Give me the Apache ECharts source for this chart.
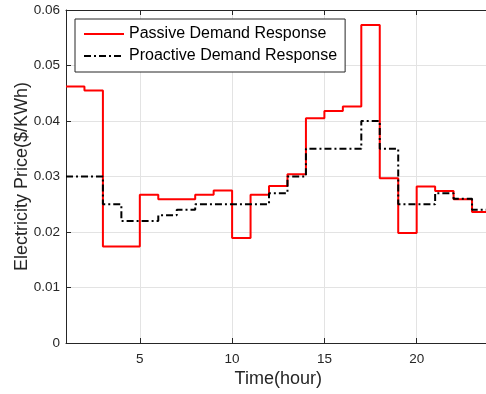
<!DOCTYPE html>
<html>
<head>
<meta charset="utf-8">
<script src="https://cdn.jsdelivr.net/npm/echarts@6/dist/echarts.min.js"></script>
<style>
  html, body { margin: 0; padding: 0; background: #ffffff; }
  #chart { width: 486px; height: 394px; }
</style>
</head>
<body>
<div id="chart"></div>
<script>
// Hourly electricity price under two demand-response schemes (stairs)
var hours = [1, 2, 3, 4, 5, 6, 7, 8, 9, 10, 11, 12, 13, 14, 15, 16, 17, 18, 19, 20, 21, 22, 23, 24];
var passivePrice = [0.0462, 0.0455, 0.0174, 0.0174, 0.0267, 0.0259, 0.0259, 0.0267, 0.0275, 0.0189, 0.0267, 0.0283,
                    0.0304, 0.0405, 0.0418, 0.0426, 0.0573, 0.0297, 0.0198, 0.0282, 0.0274, 0.0259, 0.0236, 0.0236];
var proactivePrice = [0.030, 0.030, 0.025, 0.022, 0.022, 0.023, 0.024, 0.025, 0.025, 0.025, 0.025, 0.027,
                      0.030, 0.035, 0.035, 0.035, 0.040, 0.035, 0.025, 0.025, 0.027, 0.026, 0.024, 0.024];
var xTicks = [5, 10, 15, 20];
var seriesNames = ['Passive Demand Response', 'Proactive Demand Response'];

function pairs(xs, ys) {
  return xs.map(function (x, i) { return [x, ys[i]]; });
}

var FONT = '"Liberation Sans", Arial, Helvetica, sans-serif';
var AXIS = '#262626';
var GRID = '#e3e3e3';

var chart = echarts.init(document.getElementById('chart'), null, { renderer: 'canvas' });

chart.setOption({
  animation: false,
  backgroundColor: '#ffffff',
  grid: { left: 66, top: 10, right: -4.5, bottom: 51, containLabel: false, outerBoundsMode: 'none' },
  legend: {
    left: 75,
    top: 19,
    orient: 'vertical',
    data: seriesNames,
    itemWidth: 40,
    itemHeight: 14,
    itemGap: 6,
    padding: [7, 8, 8, 8],
    backgroundColor: '#ffffff',
    borderColor: AXIS,
    borderWidth: 1,
    borderRadius: 0,
    itemStyle: { opacity: 0 },
    textStyle: { fontFamily: FONT, fontSize: 16, color: '#000000' }
  },
  xAxis: [{
    type: 'value',
    min: 1,
    max: 24,
    position: 'bottom',
    name: 'Time(hour)',
    nameLocation: 'middle',
    nameGap: 27,
    nameMoveOverlap: false,
    nameTextStyle: { fontFamily: FONT, fontSize: 18, color: AXIS },
    axisLine: { show: true, onZero: false, lineStyle: { color: AXIS, width: 1 } },
    axisTick: { show: true, inside: true, length: 5, customValues: xTicks, lineStyle: { color: AXIS } },
    axisLabel: { customValues: xTicks, margin: 9, fontFamily: FONT, fontSize: 13.5, color: AXIS },
    splitLine: { show: true, lineStyle: { color: GRID, width: 1 } }
  }, {
    type: 'value',
    min: 1,
    max: 24,
    position: 'top',
    axisLine: { show: true, onZero: false, lineStyle: { color: AXIS, width: 1 } },
    axisTick: { show: true, inside: true, length: 5, customValues: xTicks, lineStyle: { color: AXIS } },
    axisLabel: { show: false },
    splitLine: { show: false }
  }],
  yAxis: {
    type: 'value',
    min: 0,
    max: 0.06,
    interval: 0.01,
    name: 'Electricity Price($/KWh)',
    nameLocation: 'middle',
    nameGap: 35,
    nameMoveOverlap: false,
    nameTextStyle: { fontFamily: FONT, fontSize: 18, color: AXIS },
    axisLine: { show: true, lineStyle: { color: AXIS, width: 1 } },
    axisTick: { show: true, inside: true, length: 5, lineStyle: { color: AXIS } },
    axisLabel: { margin: 6, fontFamily: FONT, fontSize: 13.5, color: AXIS },
    splitLine: { show: true, lineStyle: { color: GRID, width: 1 } }
  },
  series: [{
    name: seriesNames[0],
    type: 'line',
    step: 'end',
    xAxisIndex: 0,
    symbol: 'none',
    data: pairs(hours, passivePrice),
    lineStyle: { color: '#ff0000', width: 2 },
    itemStyle: { color: '#ff0000' },
    z: 3
  }, {
    name: seriesNames[1],
    type: 'line',
    step: 'end',
    xAxisIndex: 0,
    symbol: 'none',
    data: pairs(hours, proactivePrice),
    lineStyle: { color: '#000000', width: 2, type: [7, 3, 2, 3] },
    itemStyle: { color: '#000000' },
    z: 4
  }]
});
</script>
</body>
</html>
